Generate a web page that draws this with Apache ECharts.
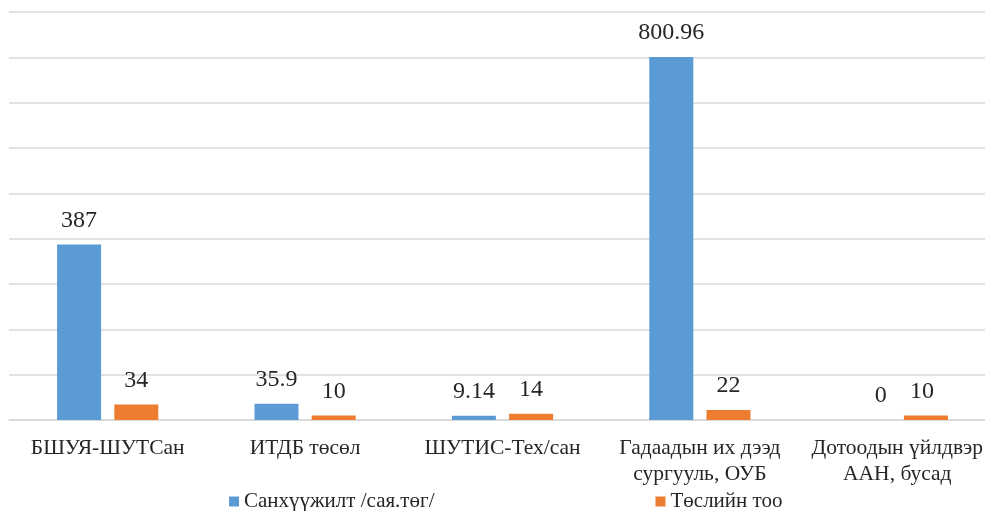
<!DOCTYPE html>
<html>
<head>
<meta charset="utf-8">
<script src="https://cdn.jsdelivr.net/npm/echarts@6/dist/echarts.min.js"></script>
<style>html,body{margin:0;padding:0;background:#fff;}#c{width:985px;height:511px;}</style>
</head>
<body>
<div id="c"></div>
<script>
const categories = ['БШУЯ-ШУТСан', 'ИТДБ төсөл', 'ШУТИС-Тех/сан', 'Гадаадын их дээд\nсургууль, ОУБ', 'Дотоодын үйлдвэр\nААН, бусад'];
const fundingName = 'Санхүүжилт /сая.төг/';
const fundingValues = [387, 35.9, 9.14, 800.96, 0];
const countName = 'Төслийн тоо';
const countValues = [34, 10, 14, 22, 10];

const FONT = '"Liberation Serif", "Times New Roman", serif';
const chart = echarts.init(document.getElementById('c'), null, {renderer: 'canvas'});
const labelCfg = {show: true, position: 'top', distance: 12, fontFamily: FONT, fontSize: 24, color: '#262626'};
// the last category's labels are nudged sideways in the reference
const fundingData = fundingValues.map((v, i) => i === 4 ? {value: v, label: {offset: [12, 0]}} : v);
const countData = countValues.map((v, i) => i === 4 ? {value: v, label: {offset: [-4, 0]}} : v);
chart.setOption({
  animation: false,
  grid: {left: 9, width: 987, top: 12, height: 408, containLabel: false, outerBoundsMode: 'none'},
  legend: {
    left: 229, top: 491, padding: 0, itemWidth: 10, itemHeight: 10, itemGap: 221, icon: 'rect',
    textStyle: {fontFamily: FONT, fontSize: 21, color: '#262626'},
    data: [fundingName, countName]
  },
  xAxis: {
    type: 'category', data: categories,
    axisLine: {lineStyle: {color: '#d9d9d9', width: 1.5}},
    axisTick: {show: false},
    axisLabel: {fontFamily: FONT, fontSize: 21.5, color: '#262626', margin: 15, lineHeight: 26, interval: 0}
  },
  yAxis: {
    type: 'value', min: 0, max: 900, interval: 100,
    axisLabel: {show: false}, axisLine: {show: false}, axisTick: {show: false},
    splitLine: {lineStyle: {color: '#d9d9d9', width: 1.5}}
  },
  series: [
    {name: fundingName, type: 'bar', data: fundingData, barWidth: 44, barGap: '30%', itemStyle: {color: '#5B9BD5'}, label: labelCfg},
    {name: countName, type: 'bar', data: countData, barWidth: 44, itemStyle: {color: '#ED7D31'}, label: labelCfg}
  ]
});
</script>
</body>
</html>
